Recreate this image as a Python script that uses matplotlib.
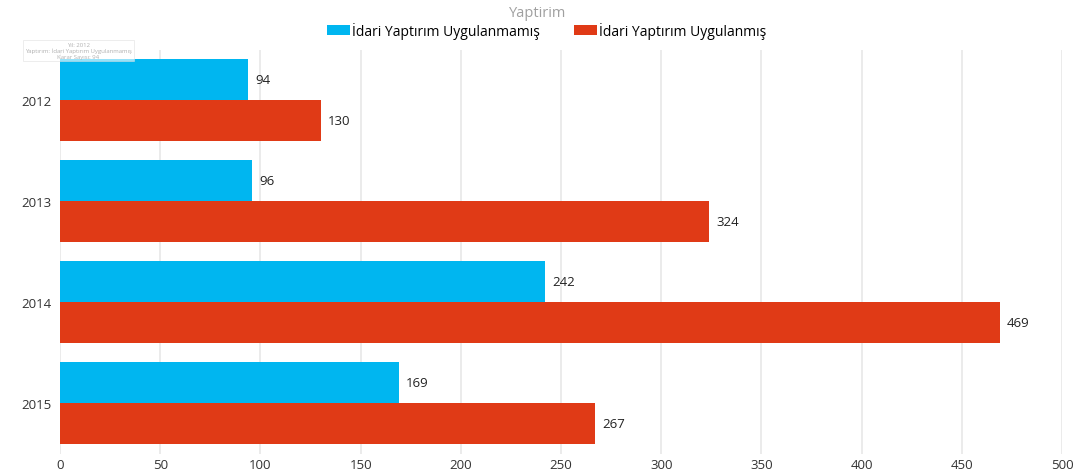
import matplotlib.pyplot as plt
import numpy as np

plt.rcParams['font.family'] = ['Open Sans', 'DejaVu Sans']

# Years (categories)
years = ['2012', '2013', '2014', '2015']

# Series values
uygulanmamis = [94, 96, 242, 169]
uygulanmis = [130, 324, 469, 267]

series_names = ['İdari Yaptırım Uygulanmamış', 'İdari Yaptırım Uygulanmış']
colors = ['#00B6F0', '#E03A16']

fig = plt.figure(figsize=(10.76, 4.77), dpi=100)
ax = fig.add_axes([0.0558, 0.047, 0.9312, 0.847])

y = np.arange(len(years))
h = 0.405
b1 = ax.barh(y - h / 2, uygulanmamis, height=h, color=colors[0], label=series_names[0], zorder=3)
b2 = ax.barh(y + h / 2, uygulanmis, height=h, color=colors[1], label=series_names[1], zorder=3)

# Value labels
for bars, vals in [(b1, uygulanmamis), (b2, uygulanmis)]:
    for rect, v in zip(bars, vals):
        ax.text(rect.get_width() + 3.5, rect.get_y() + rect.get_height() / 2, str(v),
                va='center', ha='left', fontsize=9.5, color='#222222')

ax.set_xlim(0, 500)
ax.set_ylim(3.5, -0.5)
ax.set_yticks(y)
ax.set_yticklabels(years)
ax.set_xticks(np.arange(0, 501, 50))
ax.tick_params(axis='both', length=0, labelsize=9.5, colors='#333333', pad=3)
ax.tick_params(axis='y', pad=6)
ax.grid(axis='x', color='#E8E8E8', linewidth=1.2, zorder=0)
for s in ax.spines.values():
    s.set_visible(False)

# Title and legend
fig.text(0.5, 0.972, 'Yaptirim', ha='center', va='center', fontsize=10.5, color='#A0A0A0')
fig.legend(handles=[b1, b2], loc='center', bbox_to_anchor=(0.508, 0.935), ncol=2,
           frameon=False, fontsize=10, handlelength=1.7, handleheight=0.7,
           handletextpad=0.15, columnspacing=2.4)

# Faint tooltip leftover in the upper left
fig.text(0.073, 0.892, 'Yıl: 2012\nYaptırım: İdari Yaptırım Uygulanmamış\nKarar Sayısı: 94',
         ha='center', va='center', fontsize=4.3, color='#B0B0B0', linespacing=1.1,
         bbox=dict(boxstyle='square,pad=0.35', facecolor='white', edgecolor='#DDDDDD',
                   alpha=0.6, linewidth=0.6), zorder=10)

fig.savefig('out.png', dpi=100)
